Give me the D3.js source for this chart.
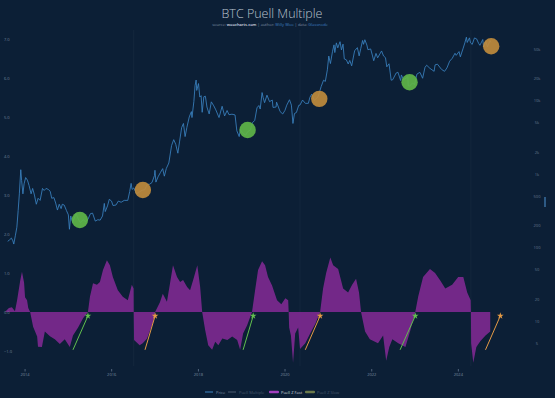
<!DOCTYPE html>
<html>
<head>
<meta charset="utf-8">
<script src="https://cdn.jsdelivr.net/npm/d3@7"></script>
<style>
	body { margin: 0; background: #0c1f36; }
	svg { display: block; font-family: "Open Sans", sans-serif; }
</style>
</head>
<body>
<svg id="chart" width="555" height="398"></svg>
<script>

// BTC price
const priceData = [
	["2013-08-12",122],["2013-08-28",128],["2013-09-12",135],["2013-09-24",124],["2013-10-02",112],["2013-10-15",145],
	["2013-10-28",190],["2013-11-08",320],["2013-11-18",540],["2013-11-30",1150],["2013-12-07",820],["2013-12-18",540],
	["2013-12-28",740],["2014-01-10",900],["2014-01-25",830],["2014-02-08",700],["2014-02-25",540],["2014-03-10",640],
	["2014-03-25",520],["2014-04-10",390],["2014-04-25",470],["2014-05-12",440],["2014-06-01",640],["2014-06-15",600],
	["2014-07-01",640],["2014-07-20",620],["2014-08-05",585],["2014-08-18",470],["2014-09-05",480],["2014-09-20",405],
	["2014-10-05",325],["2014-10-20",390],["2014-11-05",340],["2014-11-15",390],["2014-12-01",380],["2014-12-20",320],
	["2015-01-05",280],["2015-01-14",178],["2015-01-25",270],["2015-02-10",220],["2015-03-10",290],["2015-03-30",245],
	["2015-04-15",220],["2015-05-10",240],["2015-06-01",225],["2015-06-20",245],["2015-07-10",290],["2015-07-28",295],
	["2015-08-20",230],["2015-09-10",240],["2015-09-30",237],["2015-10-20",270],["2015-11-04",400],["2015-11-12",310],
	["2015-12-01",370],["2015-12-16",455],["2016-01-04",430],["2016-01-16",375],["2016-02-10",380],["2016-03-01",430],
	["2016-03-25",415],["2016-04-20",440],["2016-05-20",440],["2016-06-05",580],["2016-06-17",750],["2016-06-25",620],
	["2016-07-10",650],["2016-08-02",540],["2016-08-25",575],["2016-09-20",605],["2016-10-10",615],["2016-11-01",730],
	["2016-11-20",730],["2016-12-10",770],["2016-12-31",960],["2017-01-04",1130],["2017-01-12",780],["2017-01-30",920],
	["2017-02-20",1060],["2017-03-10",1190],["2017-03-24",940],["2017-04-10",1200],["2017-05-01",1420],["2017-05-24",2450],
	["2017-06-11",2950],["2017-06-28",2550],["2017-07-16",1930],["2017-07-30",2750],["2017-08-17",4300],["2017-09-01",4900],
	["2017-09-15",3250],["2017-09-30",4330],["2017-10-20",6000],["2017-11-07",7100],["2017-11-12",5900],["2017-11-28",9800],
	["2017-12-08",16000],["2017-12-17",19100],["2017-12-22",13800],["2018-01-06",17100],["2018-01-17",11200],["2018-01-28",11700],
	["2018-02-06",6950],["2018-02-20",11300],["2018-03-05",11500],["2018-03-18",8200],["2018-04-06",6600],["2018-04-24",9650],
	["2018-05-15",8500],["2018-06-01",7500],["2018-06-28",5900],["2018-07-24",8400],["2018-08-14",6200],["2018-09-04",7350],
	["2018-09-20",6450],["2018-10-15",6550],["2018-11-10",6400],["2018-11-25",3900],["2018-12-15",3250],["2018-12-24",4050],
	["2019-01-15",3600],["2019-02-07",3400],["2019-02-25",3800],["2019-03-20",4000],["2019-04-05",5000],["2019-04-25",5400],
	["2019-05-14",8000],["2019-05-30",8600],["2019-06-10",7700],["2019-06-26",12900],["2019-07-05",11000],["2019-07-17",9400],
	["2019-08-06",11900],["2019-08-28",9700],["2019-09-20",10200],["2019-09-26",8100],["2019-10-22",8200],["2019-10-26",9550],
	["2019-11-25",7100],["2019-12-17",6600],["2020-01-05",7400],["2020-01-20",8700],["2020-02-12",10300],["2020-02-28",8700],
	["2020-03-12",4900],["2020-03-25",6700],["2020-04-10",6900],["2020-04-30",8650],["2020-05-10",8700],["2020-06-01",10200],
	["2020-06-25",9200],["2020-07-20",9200],["2020-08-02",11100],["2020-08-17",12300],["2020-09-08",10100],["2020-09-25",10700],
	["2020-10-10",11300],["2020-10-21",12900],["2020-11-05",15600],["2020-11-25",19000],["2020-12-10",18300],["2020-12-27",26300],
	["2021-01-08",40500],["2021-01-22",32000],["2021-02-08",46400],["2021-02-21",57500],["2021-02-28",45200],["2021-03-13",61200],
	["2021-03-25",52300],["2021-04-13",63500],["2021-04-25",49000],["2021-05-08",58800],["2021-05-19",37000],["2021-06-05",36000],
	["2021-06-21",31600],["2021-07-04",35300],["2021-07-20",29800],["2021-08-14",47800],["2021-09-06",52700],["2021-09-21",40700],
	["2021-10-05",51500],["2021-10-20",66000],["2021-10-28",58500],["2021-11-08",67500],["2021-11-25",57200],["2021-12-04",49400],
	["2021-12-27",50600],["2022-01-10",41800],["2022-01-22",35000],["2022-02-10",44000],["2022-02-24",38300],["2022-03-29",47500],
	["2022-04-15",40500],["2022-05-01",38500],["2022-05-12",28900],["2022-05-31",31800],["2022-06-18",19000],["2022-07-01",19300],
	["2022-07-30",23800],["2022-08-14",24400],["2022-09-06",18800],["2022-09-12",22400],["2022-10-01",19300],["2022-10-28",20600],
	["2022-11-05",21300],["2022-11-09",15900],["2022-11-21",15800],["2022-12-15",17400],["2023-01-01",16600],["2023-01-21",23000],
	["2023-02-15",24300],["2023-03-10",20200],["2023-03-30",28400],["2023-04-13",30400],["2023-05-10",27600],["2023-06-15",25100],
	["2023-06-23",30700],["2023-07-13",31400],["2023-08-17",26600],["2023-09-11",25100],["2023-10-01",27900],["2023-10-24",34500],
	["2023-11-15",37800],["2023-12-08",44200],["2023-12-18",41400],["2024-01-11",46600],["2024-01-22",39500],["2024-02-15",51900],
	["2024-02-29",61200],["2024-03-13",73100],["2024-03-20",62000],["2024-04-08",71600],["2024-04-17",61300],["2024-05-01",58300],
	["2024-05-20",71400],["2024-06-07",69300],["2024-06-24",60300],["2024-07-05",56700],["2024-07-29",68000],["2024-08-05",54000],
	["2024-08-25",64000],["2024-09-06",53900],["2024-09-28",65800],["2024-10-05",62100]
];

// Puell Z (fast) oscillator
const zFast = [
	["2013-07-20",0],["2013-08-22",0.1],["2013-09-16",0.12],["2013-10-12",0.02],["2013-10-30",0.3],["2013-11-25",0.8],
	["2013-12-10",1.03],["2013-12-28",0.75],["2014-01-05",0.38],["2014-01-22",0.3],["2014-02-01",0.1],["2014-02-17",0],
	["2014-03-14",-0.38],["2014-04-17",-0.63],["2014-04-24",-0.89],["2014-05-27",-0.9],["2014-06-21",-0.5],["2014-08-03",-0.62],
	["2014-09-13",-0.7],["2014-10-25",-0.82],["2014-12-06",-0.7],["2015-01-17",-0.9],["2015-02-13",-0.6],["2015-03-28",-0.4],
	["2015-05-09",-0.16],["2015-06-19",0],["2015-07-06",0.39],["2015-08-01",0.74],["2015-09-03",0.7],["2015-09-28",0.77],
	["2015-10-24",1.08],["2015-11-26",1.33],["2015-12-21",1.2],["2016-01-15",0.9],["2016-02-26",0.56],["2016-04-08",0.39],
	["2016-05-20",0.3],["2016-06-23",0.7],["2016-07-08",0.6],["2016-07-09",0],["2016-07-12",-0.72],["2016-08-28",-0.85],
	["2016-09-23",-0.8],["2016-10-29",-0.68],["2016-11-24",-0.47],["2016-12-20",-0.26],["2017-01-05",0],["2017-01-22",0.1],
	["2017-02-15",0.25],["2017-03-11",0.47],["2017-04-15",0.26],["2017-05-10",0.72],["2017-06-05",1.2],["2017-07-09",0.9],
	["2017-08-04",0.77],["2017-08-29",0.82],["2017-10-02",0.64],["2017-10-27",0.56],["2017-11-22",0.82],["2017-12-27",1.2],
	["2018-01-20",0.64],["2018-02-06",0],["2018-03-03",-0.46],["2018-03-29",-0.85],["2018-05-01",-0.97],["2018-05-27",-0.76],
	["2018-06-22",-0.85],["2018-07-26",-0.68],["2018-09-06",-0.72],["2018-10-17",-0.63],["2018-11-28",-0.72],["2018-12-23",-0.97],
	["2019-01-17",-0.55],["2019-02-20",-0.34],["2019-04-02",0],["2019-04-28",0.56],["2019-05-23",1.08],["2019-06-26",1.3],
	["2019-07-21",1.2],["2019-08-15",0.9],["2019-09-18",0.68],["2019-10-30",0.3],["2019-12-05",0.2],["2020-01-08",0.35],
	["2020-02-01",0.3],["2020-02-05",0],["2020-02-09",-0.4],["2020-02-24",-0.6],["2020-03-13",-1.3],["2020-03-31",-0.55],
	["2020-04-25",-0.4],["2020-05-11",-0.95],["2020-06-24",-0.8],["2020-08-04",-0.55],["2020-09-17",-0.3],["2020-10-27",0],
	["2020-11-21",0.6],["2020-12-17",1.0],["2021-01-21",1.4],["2021-02-14",1.2],["2021-03-28",1.1],["2021-05-09",0.6],
	["2021-06-20",0.5],["2021-07-24",0.7],["2021-08-26",0.85],["2021-09-20",0.5],["2021-10-07",0],["2021-11-10",-0.5],
	["2021-12-20",-0.7],["2022-02-27",-0.8],["2022-04-11",-0.6],["2022-05-07",-1.25],["2022-06-02",-0.9],["2022-06-28",-0.7],
	["2022-08-17",-0.8],["2022-10-16",-0.9],["2022-11-24",-0.5],["2023-01-07",0],["2023-02-01",0.4],["2023-03-14",0.9],
	["2023-05-11",1.1],["2023-06-23",1.0],["2023-08-07",0.8],["2023-09-17",0.6],["2023-11-14",0.7],["2024-01-04",0.9],
	["2024-02-16",0.9],["2024-03-20",0.5],["2024-04-18",0.3],["2024-04-20",0],["2024-04-22",-0.8],["2024-05-10",-1.3],
	["2024-06-05",-0.9],["2024-07-08",-0.75],["2024-08-21",-0.6],["2024-09-30",-0.5]
];

// signal markers on price: [date, price, type]
const signals = [
	["2015-04-12",238,"buy"],["2016-09-24",608,"sell"],["2019-02-24",4000,"buy"],
	["2020-10-20",10600,"sell"],["2022-11-20",17800,"buy"],["2024-10-08",55000,"sell"]
];

// arrows in oscillator panel: [from date, from z, to date, to z, type]
const arrows = [
	["2015-02-13",-0.97,"2015-06-19",-0.1,"buy"],["2016-10-12",-0.97,"2017-01-05",-0.1,"sell"],
	["2019-01-17",-0.97,"2019-04-12",-0.1,"buy"],["2020-06-24",-0.97,"2020-10-27",-0.1,"sell"],
	["2022-09-01",-0.97,"2023-01-07",-0.1,"buy"],["2024-08-21",-0.97,"2024-12-24",-0.1,"sell"]
];

const halvings = ["2016-07-09","2020-05-11","2024-04-20"];
const yearTicks = ["2014","2016","2018","2020","2022","2024"];
const zTicks = [-1,0,1,2,3,4,5,6,7];
const priceTicks = [50000,20000,10000,5000,2000,1000,500,200,100,50,20,10,5];
const priceTickLabels = ["50k","20k","10k","5k","2k","1k","500","200","100","50","20","10","5"];
const legendItems = ["Price","Puell Multiple","Puell Z Fast","Puell Z Slow"];

const parse = d3.timeParse("%Y-%m-%d");
const colors = { buy: "#5fb548", sell: "#c08b3c", buyArrow: "#62bf4f", sellArrow: "#e59a45" };

let svg = d3.select("#chart");

svg.append("rect").attr("width", 555).attr("height", 398).attr("fill", "#0c1f36");

let x = d3.scaleTime()
	.domain([parse("2013-07-20"), parse("2025-07-20")])
	.range([5, 525]);
let yPrice = d3.scaleLog()
	.domain([3, 100000])
	.range([359.6, 27.2]);
let yZ = d3.scaleLinear()
	.domain([-1, 7])
	.range([351, 39]);

// halving lines
svg.selectAll(".halving")
	.data(halvings)
	.enter()
	.append("line")
	.attr("x1", d => x(parse(d))).attr("x2", d => x(parse(d)))
	.attr("y1", 30).attr("y2", 366)
	.attr("stroke", "#ffffff")
	.attr("stroke-opacity", 0.035);

// oscillator
let area = d3.area()
	.x(d => x(parse(d[0])))
	.y0(yZ(0))
	.y1(d => yZ(d[1]));

svg.append("path")
	.datum(zFast)
	.attr("d", area)
	.attr("fill", "#79298d")
	.attr("fill-opacity", 0.95);

// price
let line = d3.line()
	.x(d => x(parse(d[0])))
	.y(d => yPrice(d[1]));

svg.append("path")
	.datum(priceData)
	.attr("d", line)
	.attr("fill", "none")
	.attr("stroke", "#3a82c0")
	.attr("stroke-width", 0.85);

// arrows
let arrowG = svg.append("g");
arrowG.selectAll("line")
	.data(arrows)
	.enter()
	.append("line")
	.attr("x1", d => x(parse(d[0]))).attr("y1", d => yZ(d[1]))
	.attr("x2", d => x(parse(d[2]))).attr("y2", d => yZ(d[3]))
	.attr("stroke", d => d[4] == "buy" ? colors.buyArrow : colors.sellArrow)
	.attr("stroke-width", 1);
arrowG.selectAll("path")
	.data(arrows)
	.enter()
	.append("path")
	.attr("d", d3.symbol().type(d3.symbolStar).size(14))
	.attr("transform", d => "translate(" + x(parse(d[2])) + "," + yZ(d[3]) + ")")
	.attr("fill", d => d[4] == "buy" ? colors.buyArrow : colors.sellArrow);

// signal circles
svg.selectAll(".signal")
	.data(signals)
	.enter()
	.append("circle")
	.attr("class", "signal")
	.attr("cx", d => x(parse(d[0])))
	.attr("cy", d => yPrice(d[1]))
	.attr("r", 8.2)
	.attr("fill", d => colors[d[2]])
	.attr("fill-opacity", 0.92);

// left axis (oscillator)
svg.append("g").selectAll("text")
	.data(zTicks)
	.enter()
	.append("text")
	.attr("x", 4)
	.attr("y", d => yZ(d) + 1.5)
	.attr("font-size", 4)
	.attr("fill", "#73849a")
	.text(d => d3.format(".1f")(d));

// right axis (price)
svg.append("g").selectAll("text")
	.data(priceTicks)
	.enter()
	.append("text")
	.attr("x", 537)
	.attr("y", d => yPrice(d) + 1.5)
	.attr("text-anchor", "middle")
	.attr("font-size", 4)
	.attr("fill", "#66778e")
	.text((d, i) => priceTickLabels[i]);

svg.append("rect")
	.attr("x", 544).attr("y", 197)
	.attr("width", 2).attr("height", 10)
	.attr("fill", "#2d5a85");

// x axis
let xAxis = svg.append("g")
	.attr("transform", "translate(0,369)")
	.call(d3.axisBottom(x)
		.tickValues(yearTicks.map(d => parse(d + "-01-01")))
		.tickFormat(d3.timeFormat("%Y"))
		.tickSize(2.5)
		.tickPadding(2));
xAxis.select(".domain").remove();
xAxis.selectAll("line").attr("stroke", "#51647c");
xAxis.selectAll("text")
	.attr("font-size", 4)
	.attr("font-family", "Open Sans")
	.attr("fill", "#7b8ca1");

// title
svg.append("text")
	.attr("x", 272)
	.attr("y", 18)
	.attr("text-anchor", "middle")
	.attr("font-size", 12.5)
	.attr("font-weight", 300)
	.attr("fill", "#b9c2cd")
	.text("BTC Puell Multiple");

let sub = svg.append("text")
	.attr("x", 270)
	.attr("y", 26)
	.attr("text-anchor", "middle")
	.attr("font-size", 4)
	.attr("fill", "#7f8ea3");
sub.append("tspan").text("source: ");
sub.append("tspan").attr("fill", "#d8dee6").attr("font-weight", 600).text("woocharts.com");
sub.append("tspan").text(" | author: ");
sub.append("tspan").attr("fill", "#3f7fc0").text("Willy Woo");
sub.append("tspan").text(" | data: ");
sub.append("tspan").attr("fill", "#3f7fc0").text("Glassnode");

// legend
let legend = svg.append("g").attr("font-size", 4);
let lx = [205, 228, 269, 305];
let swatch = [
	{ kind: "line", color: "#3e86c4", text: "#7f8ea3" },
	{ kind: "line", color: "#4a5a6e", text: "#45566b" },
	{ kind: "rect", color: "#a33fbf", text: "#c9d1db" },
	{ kind: "rect", color: "#6c7a4c", text: "#45566b" }
];
legendItems.forEach(function(name, i) {
	let s = swatch[i];
	if (s.kind == "line") {
		legend.append("line")
			.attr("x1", lx[i]).attr("x2", lx[i] + 8)
			.attr("y1", 392).attr("y2", 392)
			.attr("stroke", s.color).attr("stroke-width", 1);
	} else {
		legend.append("rect")
			.attr("x", lx[i]).attr("y", 390.8)
			.attr("width", 10).attr("height", 2.4)
			.attr("rx", 1)
			.attr("fill", s.color);
	}
	legend.append("text")
		.attr("x", lx[i] + (s.kind == "line" ? 11 : 12))
		.attr("y", 393.5)
		.attr("fill", s.text)
		.text(name);
});

</script>
</body>
</html>
